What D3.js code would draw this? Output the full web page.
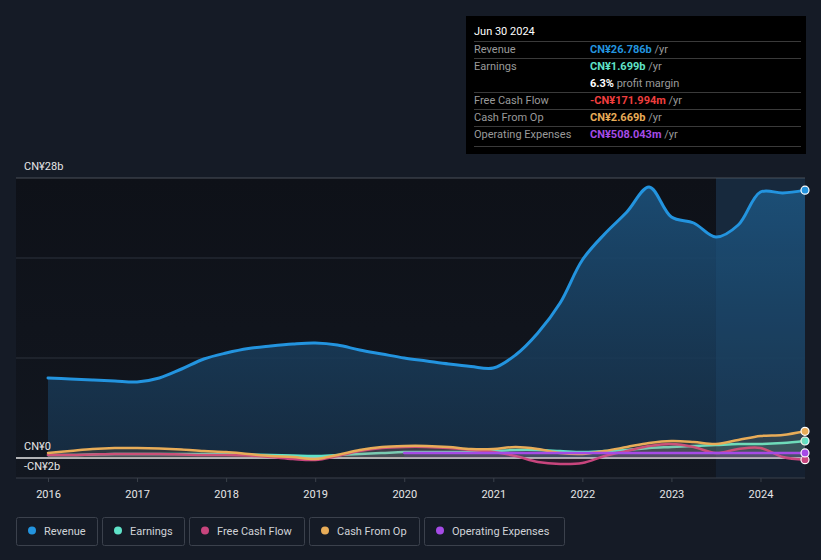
<!DOCTYPE html>
<html><head><meta charset="utf-8">
<script src="https://cdn.jsdelivr.net/npm/d3@7"></script>
<style>
body{margin:0;background:#151b26;font-family:Roboto,"Noto Sans",sans-serif;}
svg{display:block}
</style></head><body>
<svg id="c" width="821" height="560"></svg>
<script>
const quarters = d3.range(0, 35).map(i => 2016 + i * 0.25);
const revenue = [8.0,7.9,7.8,7.7,7.6,8.0,8.9,9.9,10.5,10.95,11.2,11.4,11.5,11.3,10.8,10.4,10.0,9.7,9.4,9.15,9.0,10.3,12.5,15.5,19.8,22.4,24.6,27.1,24.1,23.5,22.1,23.3,26.6,26.5,26.786];
const earnings = [0.3,0.3,0.35,0.4,0.4,0.4,0.4,0.4,0.4,0.35,0.3,0.25,0.2,0.3,0.4,0.5,0.6,0.6,0.6,0.6,0.7,0.8,0.8,0.7,0.6,0.7,0.8,1.0,1.1,1.2,1.3,1.4,1.4,1.5,1.699];
const fcf = [0.3,0.3,0.35,0.4,0.4,0.4,0.35,0.3,0.3,0.25,0.1,-0.1,-0.2,0.2,0.7,1.0,1.1,1.1,1.0,0.8,0.6,0.2,-0.4,-0.6,-0.5,0.2,0.7,1.2,1.4,1.1,0.5,0.9,1.0,0.1,-0.172];
const cashOp = [0.5,0.7,0.9,1.0,1.0,0.95,0.85,0.7,0.6,0.4,0.2,0.1,-0.1,0.3,0.8,1.1,1.2,1.2,1.1,0.9,0.9,1.1,0.9,0.5,0.4,0.7,1.1,1.5,1.7,1.6,1.4,1.8,2.2,2.3,2.669];
const opex = [null,null,null,null,null,null,null,null,null,null,null,null,null,null,null,null,0.5,0.5,0.5,0.5,0.5,0.5,0.5,0.5,0.5,0.5,0.5,0.5,0.5,0.5,0.5,0.5,0.5,0.5,0.508];
const yearTicks = [2016,2017,2018,2019,2020,2021,2022,2023,2024];
const seriesNames = ["Revenue","Earnings","Free Cash Flow","Cash From Op","Operating Expenses"];
const colors = ["#2394df","#5fe2c8","#c8457d","#e8ac58","#a54be6"];

const svg = d3.select("#c");
const x = d3.scaleLinear().domain([2016, 2024.5]).range([48, 805]);
const y = d3.scaleLinear().domain([-2, 28]).range([478, 178]);
const L = 16, R = 805;
const curve = d3.curveCatmullRom.alpha(0.5);

const defs = svg.append("defs");
const g1 = defs.append("linearGradient").attr("id","pbg").attr("x1",0).attr("y1",0).attr("x2",0).attr("y2",1);
g1.append("stop").attr("offset","0%").attr("stop-color","#0e1118");
g1.append("stop").attr("offset","100%").attr("stop-color","#121720");
const g2 = defs.append("linearGradient").attr("id","area").attr("x1",0).attr("y1",0).attr("x2",0).attr("y2",1);
g2.append("stop").attr("offset","0%").attr("stop-color","#1b4d75").attr("stop-opacity",0.95);
g2.append("stop").attr("offset","100%").attr("stop-color","#173048").attr("stop-opacity",0.8);

svg.append("rect").attr("x",L).attr("y",y(28)).attr("width",R-L).attr("height",y(-2)-y(28)).attr("fill","url(#pbg)");
svg.append("rect").attr("x",x(2023.5)).attr("y",y(28)).attr("width",R-x(2023.5)).attr("height",y(-2)-y(28)).attr("fill","#152030");

[28,20,10].forEach(v=>{
  svg.append("line").attr("x1",L).attr("x2",R).attr("y1",y(v)).attr("y2",y(v))
    .attr("stroke", v===28 ? "#4a5059" : "#2c323c").attr("stroke-width",1);
});

const data = quarters.map((q,i)=>({q,i}));
const area = d3.area().x(d=>x(d.q)).y0(y(0)).y1(d=>y(revenue[d.i])).curve(curve);
svg.append("path").datum(data).attr("d",area).attr("fill","url(#area)");
svg.append("rect").attr("x",x(2023.5)).attr("y",y(28)).attr("width",R-x(2023.5)).attr("height",y(0)-y(28)).attr("fill","#2a6a9a").attr("opacity",0.12);

svg.append("line").attr("x1",L).attr("x2",R).attr("y1",y(0)).attr("y2",y(0)).attr("stroke","#e8e8e8").attr("stroke-width",1.5);

const seriesVals = [revenue, earnings, fcf, cashOp, opex];
const order = [1,2,3,4,0];
order.forEach(k=>{
  const vals = seriesVals[k];
  const line = d3.line().defined(d=>vals[d.i]!==null).x(d=>x(d.q)).y(d=>y(vals[d.i])).curve(curve);
  if (k!==0) {
    const ar = d3.area().defined(d=>vals[d.i]!==null).x(d=>x(d.q)).y0(y(0)).y1(d=>y(vals[d.i])).curve(curve);
    svg.append("path").datum(data).attr("d",ar).attr("fill",colors[k]).attr("opacity",0.12);
  }
  svg.append("path").datum(data).attr("d",line).attr("fill","none").attr("stroke",colors[k]).attr("stroke-width", k===0?3:2.5).attr("stroke-linecap","round");
  svg.append("circle").attr("cx",x(2024.5)).attr("cy",y(vals[vals.length-1])).attr("r",4).attr("fill",colors[k]).attr("stroke","#fff").attr("stroke-width",1.2);
});

const yl = svg.append("g").attr("font-size",11).attr("fill","#e6e6e6");
yl.append("text").attr("x",24).attr("y",170).text("CN¥28b");
yl.append("text").attr("x",24).attr("y",450).text("CN¥0");
yl.append("text").attr("x",24).attr("y",470).text("-CN¥2b");

const xa = svg.append("g").attr("transform",`translate(0,${y(-2)})`)
  .call(d3.axisBottom(x).tickValues(yearTicks).tickFormat(d3.format("d")).tickSize(4).tickPadding(8));
xa.select(".domain").attr("stroke","#3a404a").attr("d",`M${L},0H${R}`);
xa.selectAll(".tick line").attr("stroke","#3a404a");
xa.selectAll(".tick text").attr("fill","#e6e6e6").attr("font-size",11).attr("font-family","Roboto,sans-serif");

const legW = [81,82,115,110,140];
let lx = 16;
seriesNames.forEach((n,i)=>{
  const g = svg.append("g").attr("transform",`translate(${lx},517)`);
  g.append("rect").attr("x",0.5).attr("y",0.5).attr("width",legW[i]).attr("height",28).attr("rx",2).attr("fill","none").attr("stroke","#3b414c");
  g.append("circle").attr("cx",16).attr("cy",13.5).attr("r",4).attr("fill",colors[i]);
  g.append("text").attr("x",28).attr("y",17.5).attr("font-size",11).attr("fill","#d0d3d8").text(n);
  lx += legW[i] + 5;
});

const tt = svg.append("g").attr("transform","translate(466,16)");
tt.append("rect").attr("width",340).attr("height",138).attr("fill","#000");
tt.append("text").attr("x",8).attr("y",19).attr("font-size",11).attr("fill","#fff").text("Jun 30 2024");
const rows = [
  {label:"Revenue", val:"CN¥26.786b", suf:" /yr", c:colors[0], y:37},
  {label:"Earnings", val:"CN¥1.699b", suf:" /yr", c:colors[1], y:54},
  {label:"", val:"6.3%", suf:" profit margin", c:"#fff", y:71, nosep:true},
  {label:"Free Cash Flow", val:"-CN¥171.994m", suf:" /yr", c:"#ef3e3e", y:88},
  {label:"Cash From Op", val:"CN¥2.669b", suf:" /yr", c:colors[3], y:105},
  {label:"Operating Expenses", val:"CN¥508.043m", suf:" /yr", c:colors[4], y:122}
];
rows.forEach(r=>{
  if(!r.nosep) tt.append("line").attr("x1",8).attr("x2",335).attr("y1",r.y-11.5).attr("y2",r.y-11.5).attr("stroke","#3a3a3a");
  tt.append("text").attr("x",8).attr("y",r.y).attr("font-size",11).attr("fill","#9a9a9a").text(r.label);
  const t = tt.append("text").attr("x",124).attr("y",r.y).attr("font-size",11);
  t.append("tspan").attr("fill",r.c).attr("font-weight","bold").text(r.val);
  t.append("tspan").attr("fill","#9a9a9a").text(r.suf);
});
tt.append("line").attr("x1",8).attr("x2",335).attr("y1",130.5).attr("y2",130.5).attr("stroke","#3a3a3a");
</script></body></html>
